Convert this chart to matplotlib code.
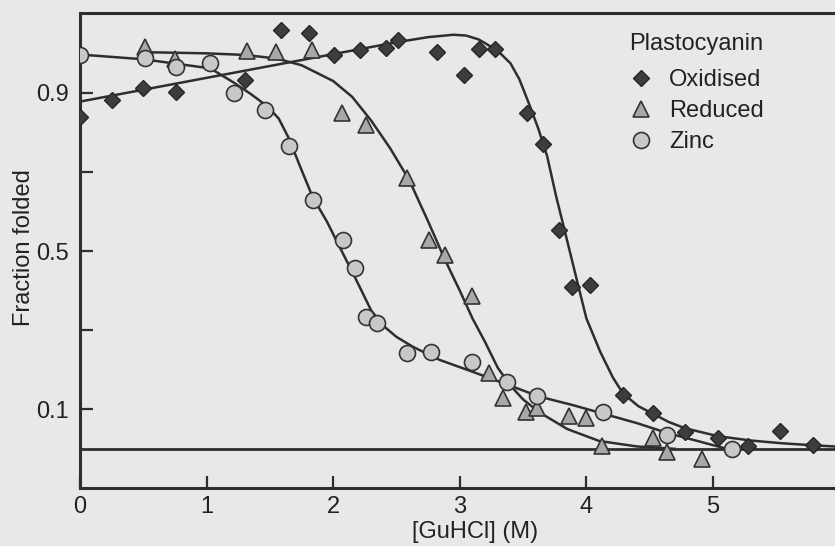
import matplotlib
matplotlib.use("Agg")
import matplotlib.pyplot as plt
from matplotlib.lines import Line2D

plt.rcParams['font.family'] = ['Liberation Sans', 'DejaVu Sans']

ox_x = [0, 0.25, 0.5, 0.76, 1.30, 1.59, 1.81, 2.01, 2.21, 2.42, 2.51, 2.82, 3.03, 3.15,
        3.28, 3.53, 3.66, 3.78, 3.89, 4.03, 4.29, 4.53, 4.78, 5.04, 5.28, 5.53, 5.79]
ox_y = [0.838, 0.881, 0.912, 0.902, 0.932, 1.058, 1.051, 0.995, 1.008, 1.013, 1.033, 1.003,
        0.944, 1.012, 1.010, 0.848, 0.770, 0.554, 0.410, 0.415, 0.137, 0.091, 0.043, 0.028,
        0.008, 0.046, 0.010]

red_x = [0.51, 0.75, 1.32, 1.55, 1.83, 2.07, 2.26, 2.58, 2.76, 2.88, 3.10, 3.23, 3.34,
         3.52, 3.61, 3.86, 4.00, 4.12, 4.53, 4.64, 4.91]
red_y = [1.015, 0.985, 1.005, 1.003, 1.008, 0.848, 0.818, 0.686, 0.529, 0.491, 0.387, 0.192,
         0.129, 0.094, 0.104, 0.084, 0.078, 0.008, 0.028, -0.008, -0.025]

zn_x = [0, 0.51, 0.76, 1.03, 1.22, 1.46, 1.65, 1.84, 2.08, 2.17, 2.26, 2.35, 2.58, 2.77,
        3.10, 3.37, 3.61, 4.13, 4.64, 5.15]
zn_y = [0.997, 0.987, 0.965, 0.975, 0.899, 0.858, 0.765, 0.628, 0.529, 0.456, 0.334, 0.319,
        0.243, 0.245, 0.220, 0.170, 0.134, 0.094, 0.035, 0.0]

# fitted curves
ox_fit_x = [0, 0.5, 1.0, 1.5, 2.0, 2.5, 2.75, 2.95, 3.05, 3.15, 3.24, 3.32, 3.4, 3.47,
            3.55, 3.62, 3.69, 3.76, 3.83, 3.93, 4.0, 4.11, 4.21, 4.29, 4.41, 4.53, 4.65,
            4.78, 5.04, 5.3, 5.55, 5.79, 5.96]
ox_fit_y = [0.878, 0.908, 0.938, 0.968, 0.998, 1.028, 1.041, 1.047, 1.045, 1.035, 1.018,
            1.0, 0.975, 0.935, 0.87, 0.81, 0.74, 0.64, 0.55, 0.42, 0.33, 0.245, 0.18, 0.14,
            0.108, 0.088, 0.068, 0.052, 0.032, 0.021, 0.014, 0.009, 0.006]

red_fit_x = [0.5, 1.0, 1.3, 1.55, 1.75, 2.0, 2.15, 2.3, 2.45, 2.6, 2.75, 2.88, 3.0, 3.1,
             3.2, 3.3, 3.4, 3.5, 3.63, 3.85, 4.1, 4.4, 4.7]
red_fit_y = [1.003, 1.0, 0.996, 0.987, 0.97, 0.93, 0.89, 0.83, 0.76, 0.68, 0.575, 0.48,
             0.40, 0.33, 0.27, 0.205, 0.16, 0.125, 0.092, 0.05, 0.02, 0.006, 0.0]

zn_fit_x = [0, 0.5, 1.03, 1.21, 1.35, 1.48, 1.57, 1.65, 1.75, 1.84, 1.95, 2.05, 2.17, 2.3,
            2.4, 2.5, 2.63, 2.84, 3.1, 3.37, 3.63, 3.9, 4.11, 4.4, 4.64, 4.9, 5.11]
zn_fit_y = [0.997, 0.985, 0.962, 0.927, 0.897, 0.866, 0.835, 0.785, 0.705, 0.635, 0.575,
            0.511, 0.435, 0.35, 0.31, 0.283, 0.258, 0.225, 0.195, 0.163, 0.132, 0.11, 0.091,
            0.065, 0.04, 0.018, 0.0]

baseline_y = 0.0

bg = '#e8e8e8'
ink = '#2e2e2e'
txt = '#222222'

fig = plt.figure(figsize=(8.35, 5.46), dpi=100, facecolor=bg)
ax = fig.add_axes([80 / 835, 1 - 488 / 546, 755 / 835, 475 / 546])
ax.set_facecolor(bg)

ax.axhline(baseline_y, color=ink, lw=2.0, zorder=1)
for fx, fy in [(ox_fit_x, ox_fit_y), (red_fit_x, red_fit_y), (zn_fit_x, zn_fit_y)]:
    ax.plot(fx, fy, color=ink, lw=1.8, zorder=2)

ox_style = dict(marker='D', ms=8.5, mfc='#3d3d3d', mec='#262626', mew=1.0, ls='none')
red_style = dict(marker='^', ms=11, mfc='#a8a8a8', mec='#333333', mew=1.2, ls='none')
zn_style = dict(marker='o', ms=11.5, mfc='#c8c8c8', mec='#333333', mew=1.2, ls='none')

ax.plot(ox_x, ox_y, zorder=3, **ox_style)
ax.plot(red_x, red_y, zorder=3, **red_style)
ax.plot(zn_x, zn_y, zorder=3, **zn_style)

ax.set_xlim(0, 5.964)
ax.set_ylim(-0.099, 1.102)

ax.set_xticks([0, 1, 2, 3, 4, 5])
ax.set_xticklabels(['0', '1', '2', '3', '4', '5'])
ax.set_yticks([0.1, 0.3, 0.5, 0.7, 0.9])
ax.set_yticklabels(['0.1', '', '0.5', '', '0.9'])
ax.tick_params(direction='in', length=9, width=1.6, color=ink, labelsize=17,
               labelcolor=txt, pad=8)
ax.tick_params(axis='x', pad=6)

for side in ['left', 'bottom', 'top']:
    ax.spines[side].set_linewidth(2.2)
    ax.spines[side].set_color(ink)
ax.spines['right'].set_visible(False)

ax.set_xlabel('[GuHCl] (M)', fontsize=17, color=txt)
ax.set_ylabel('Fraction folded', fontsize=17, color=txt)
ax.xaxis.set_label_coords((475 - 80) / 755, (488 - 521) / 475)
ax.yaxis.set_label_coords((35 - 80) / 755, (488 - 248) / 475)

handles = [Line2D([], [], **ox_style), Line2D([], [], **red_style), Line2D([], [], **zn_style)]
leg = ax.legend(handles, ['Oxidised', 'Reduced', 'Zinc'], title='Plastocyanin',
                loc='upper left', bbox_to_anchor=((629 - 80) / 755, (488 - 33) / 475),
                frameon=False, fontsize=17, title_fontsize=17, borderpad=0,
                borderaxespad=0, handlelength=1.0, handletextpad=0.7, labelspacing=0.38,
                alignment='left')
leg._legend_box.sep = 10  # a bit more room under the title
for t in leg.get_texts():
    t.set_color(txt)
leg.get_title().set_color(txt)

fig.savefig('out.png', dpi=100, facecolor=bg)
